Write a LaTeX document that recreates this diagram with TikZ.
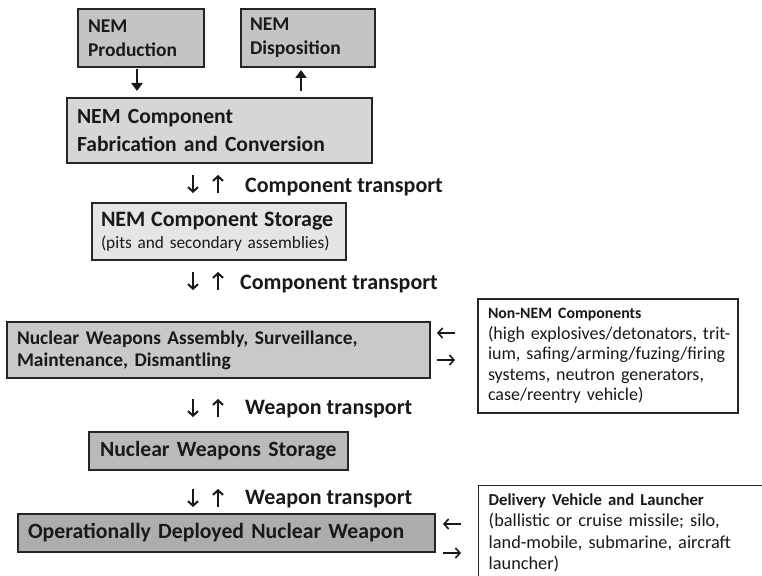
\documentclass[tikz,border=0pt]{standalone}
\usepackage{fontspec}
\setmainfont{Carlito}
\usetikzlibrary{arrows.meta}
\begin{document}
\begin{tikzpicture}[x=1pt,y=-1pt,
  box/.style={draw=black!85, line width=1.4pt, align=left, inner sep=0pt, text=black!90},
  topfont/.style={font=\fontsize{19.5}{24}\selectfont\bfseries},
  bigfont/.style={font=\fontsize{21.6}{28}\selectfont\bfseries},
  midfont/.style={font=\fontsize{19.4}{22}\selectfont\bfseries},
  lbl/.style={anchor=base west, inner sep=0pt, font=\fontsize{22}{24}\selectfont\bfseries, text=black!90},
  glyph/.style={line width=2pt, -{Straight Barb[length=4.5pt,width=10pt,line width=2pt]}, black!90},
  hglyph/.style={line width=1.6pt, -{Straight Barb[length=4.5pt,width=10pt,line width=1.6pt]}, black!90},
  toparrow/.style={line width=2.2pt, -{Triangle[length=8pt,width=11pt]}, black!90}]
\useasboundingbox (0,0) rectangle (762,575);
\clip (0,0) rectangle (762,575);
\fill[white] (0,0) rectangle (762,575);

% boxes
\node[box, topfont, fill=black!23, minimum width=126pt, minimum height=58pt, text width=106pt] (prod) at (141,38) {NEM\\Production};
\node[box, topfont, fill=black!23, minimum width=134pt, minimum height=58pt, text width=116pt] (disp) at (308,38) {NEM\\Disposition};
\node[box, bigfont, fill=black!16, minimum width=305pt, minimum height=65pt, text width=285pt] (fab) at (219.5,130.5) {NEM Component\\Fabrication and Conversion};
\node[box, fill=black!10, minimum width=254pt, minimum height=57pt, text width=236pt, font=\fontsize{17.3}{22}\selectfont] (stor) at (219,231.5)
  {{\fontsize{22}{22}\selectfont\bfseries NEM Component Storage}\\(pits and secondary assemblies)};
\node[box, midfont, fill=black!21, minimum width=423pt, minimum height=56pt, text width=403pt] (asm) at (218.5,350) {Nuclear Weapons Assembly, Surveillance,\\Maintenance, Dismantling};
\node[box, fill=white, minimum width=260pt, minimum height=114pt, text width=260pt, font=\fontsize{18}{20.5}\selectfont] (nonnem) at (608,356)
  {\leftskip=10pt\relax{\fontsize{15.8}{20.5}\selectfont\bfseries Non-NEM Components}\\(high explosives/detonators, trit-\\ium, safing/arming/fuzing/firing\\systems, neutron generators,\\case/reentry vehicle)\par};
\node[box, fill=black!27, minimum width=259pt, minimum height=38pt, text width=237pt, font=\fontsize{21.7}{24}\selectfont\bfseries] (nws) at (218.5,451) {Nuclear Weapons Storage};
\node[box, fill=black!32, minimum width=417pt, minimum height=38pt, text width=397pt, font=\fontsize{21.75}{24}\selectfont\bfseries] (ops) at (226.5,533) {Operationally Deployed Nuclear Weapon};
\node[box, fill=white, anchor=north west, inner ysep=8pt, inner xsep=10pt, text width=290pt, font=\fontsize{18.3}{21.3}\selectfont] (deliv) at (478,485)
  {{\fontsize{16.7}{21.3}\selectfont\bfseries Delivery Vehicle and Launcher}\\(ballistic or cruise missile; silo,\\land-mobile, submarine, aircraft\\launcher)};

% top arrows
\coordinate (p1) at (137,69); \coordinate (p2) at (137,91);
\coordinate (d1) at (301,91); \coordinate (d2) at (301,70);
\draw[toparrow] (p1) -- (p2);
\draw[toparrow] (d1) -- (d2);

% vertical transport arrows
\foreach \yy/\nm in {175/a, 272/b, 399/c, 489/d}{
  \coordinate (\nm dn1) at (193,\yy); \coordinate (\nm dn2) at (193,\yy+18);
  \coordinate (\nm up1) at (218,\yy+18); \coordinate (\nm up2) at (218,\yy);
  \draw[glyph] (\nm dn1) -- (\nm dn2);
  \draw[glyph] (\nm up1) -- (\nm up2);
}
\node[lbl] (la) at (245,192) {Component transport};
\node[lbl] (lb) at (240,289) {Component transport};
\node[lbl] (lc) at (245,414) {Weapon transport};
\node[lbl] (ld) at (245,504) {Weapon transport};

% horizontal arrows
\coordinate (h1a) at (455,333); \coordinate (h1b) at (437,333);
\coordinate (h2a) at (437,360); \coordinate (h2b) at (455,360);
\coordinate (h3a) at (461,524); \coordinate (h3b) at (443,524);
\coordinate (h4a) at (443,553); \coordinate (h4b) at (461,553);
\draw[hglyph] (h1a) -- (h1b);
\draw[hglyph] (h2a) -- (h2b);
\draw[hglyph] (h3a) -- (h3b);
\draw[hglyph] (h4a) -- (h4b);
\end{tikzpicture}
\end{document}
